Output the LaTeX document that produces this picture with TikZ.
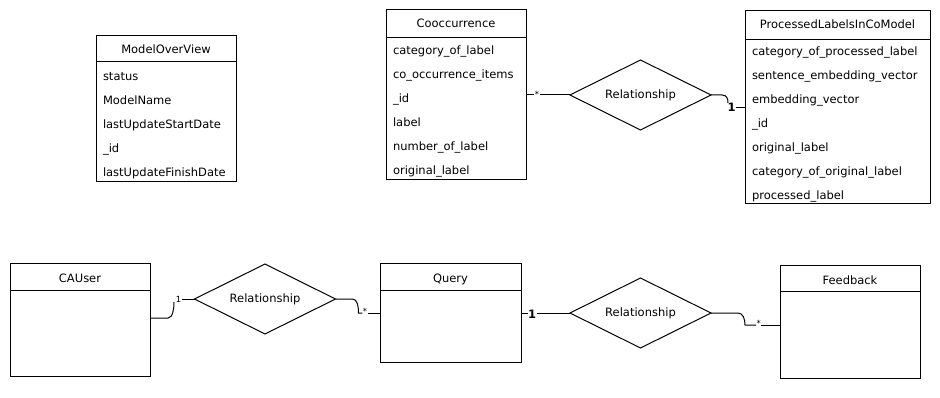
\documentclass[tikz,border=0pt]{standalone}
\usepackage{fontspec}
\setmainfont{DejaVu Sans}
\usetikzlibrary{shapes.geometric,calc}

% entity box: name, left, top, width, height, header height, title
\newcommand\erbox[7]{%
  \node[entity, minimum width=#4pt, minimum height=#5pt] (#1) at (#2,#3) {};
  \draw ($(#1.north west)+(0,#6)$) -- ($(#1.north east)+(0,#6)$);
  \node[etitle] (#1-title) at ($(#1.north)+(0,18)$) {#7};
}
% attribute rows of an entity box
\newcommand\erfields[2]{%
  \foreach \f [count=\i from 0] in {#2}
    {\node[field] (#1-f\i) at ($(#1.north west)+(6.5,45+24*\i)$) {\f};}
}

\begin{document}
\begin{tikzpicture}[x=1pt,y=-1pt,
  font=\fontsize{11.5}{13}\selectfont,
  line width=1pt,
  entity/.style={draw, rectangle, anchor=north west, inner sep=0pt, outer sep=0pt},
  rel/.style={draw, diamond, inner sep=0pt, outer sep=0pt,
    minimum width=141pt, minimum height=70pt, label={center:Relationship}},
  field/.style={anchor=base west, inner sep=0pt},
  etitle/.style={anchor=base, inner sep=0pt},
  mult/.style={inner sep=0pt, font=\fontsize{8.5}{9}\selectfont},
  multb/.style={inner sep=0pt, font=\fontsize{11.5}{13}\selectfont\bfseries},
]
\useasboundingbox (0,0) rectangle (940,398);

% entities
\erbox{mo}{96}{36}{140}{146}{26}{ModelOverView}
\erfields{mo}{status,ModelName,lastUpdateStartDate,\_id,lastUpdateFinishDate}

\erbox{co}{386}{10}{140}{170}{28}{Cooccurrence}
\erfields{co}{category\_of\_label,co\_occurrence\_items,\_id,label,number\_of\_label,original\_label}

\erbox{pl}{745}{11}{185}{193}{29}{ProcessedLabelsInCoModel}
\erfields{pl}{category\_of\_processed\_label,sentence\_embedding\_vector,embedding\_vector,\_id,original\_label,category\_of\_original\_label,processed\_label}

\erbox{cau}{10}{264}{140}{112}{26}{CAUser}
\erbox{qu}{380}{264}{141}{98}{26}{Query}
\erbox{fb}{780}{266}{140}{112}{25}{Feedback}

% relationships
\node[rel] (r1) at (640.5,95) {};
\node[rel] (r2) at (265,299) {};
\node[rel] (r3) at (640.5,313) {};

% Cooccurrence -- r1 -- ProcessedLabelsInCoModel
\node[mult] (m1) at (537,94) {*};
\draw (co.east) -- (m1.west |- co.east);
\draw (m1.east |- co.east) -- (r1.west);
\node[multb] (m2) at (731.5,107.5) {1};
\draw (r1.east) -- ++(11,0) .. controls +(5,0) and +(0,-4) .. ++(6,8);
\draw (m2.east |- pl.west) -- (pl.west);

% CAUser -- r2 -- Query
\coordinate (cauout) at ($(cau.north east)+(0,54)$);
\node[mult] (m3) at (178.5,299) {1};
\draw (cauout) -- ++(18,0) .. controls +(5,0) and +(0,6) .. ++(6,-16);
\draw (m3.east |- r2.west) -- (r2.west);
\node[mult] (m4) at (365,311.5) {*};
\draw (r2.east) -- ++(17,0) .. controls +(5,0) and +(0,-6) .. ++(6,14)
  -- (m4.west |- qu.west);
\draw (m4.east |- qu.west) -- (qu.west);

% Query -- r3 -- Feedback
\node[multb] (m5) at (532,314) {1};
\draw (qu.east) -- (m5.west |- qu.east);
\draw (m5.east |- qu.east) -- (r3.west);
\coordinate (fbin) at ($(fb.north west)+(0,59)$);
\node[mult] (m6) at (758.7,323.3) {*};
\draw (r3.east) -- ++(27,0) .. controls +(5,0) and +(0,-6) .. ++(7,12)
  -- (m6.west |- fbin);
\draw (m6.east |- fbin) -- (fbin);
\end{tikzpicture}
\end{document}
